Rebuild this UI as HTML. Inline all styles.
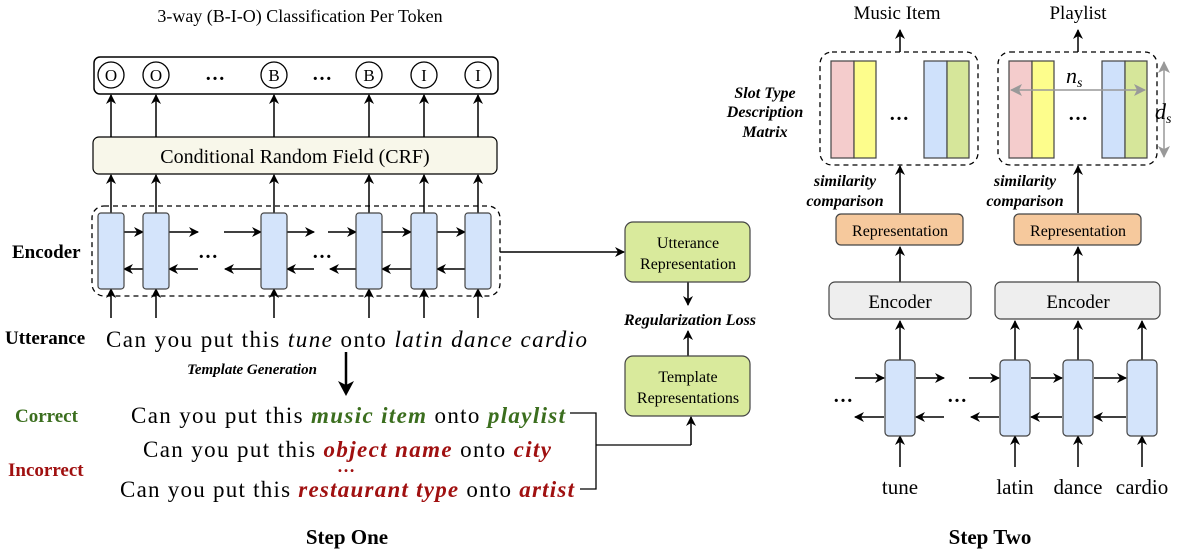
<!DOCTYPE html>
<html><head><meta charset="utf-8"><style>
html,body{margin:0;padding:0;background:#fff;}
svg{display:block;font-family:"Liberation Serif",serif;}
</style></head><body>
<svg width="1181" height="554" viewBox="0 0 1181 554" xmlns="http://www.w3.org/2000/svg">
<defs>
<marker id="a" markerWidth="10" markerHeight="10" refX="9" refY="5" orient="auto" markerUnits="userSpaceOnUse"><path d="M0,0 L10,5 L0,10 L3,5 z" fill="#000"/></marker>
<marker id="g" markerWidth="12" markerHeight="12" refX="11" refY="6" orient="auto-start-reverse" markerUnits="userSpaceOnUse"><path d="M0,0 L12,6 L0,12 L3,6 z" fill="#999"/></marker>
</defs>
<text x="300" y="22" font-size="18" text-anchor="middle">3-way (B-I-O) Classification Per Token</text>
<rect x="94" y="57" width="404" height="37" rx="6" fill="#fff" stroke="#000" stroke-width="1.5"/>
<g fill="#fff" stroke="#000" stroke-width="1.3">
<circle cx="111" cy="75" r="13"/><circle cx="156" cy="75" r="13"/><circle cx="274" cy="75" r="13"/><circle cx="369" cy="75" r="13"/><circle cx="424" cy="75" r="13"/><circle cx="478" cy="75" r="13"/>
</g>
<g font-size="17" text-anchor="middle">
<text x="111" y="81">O</text><text x="156" y="81">O</text><text x="274" y="81">B</text><text x="369" y="81">B</text><text x="424" y="81">I</text><text x="478" y="81">I</text>
</g>
<g font-size="20" font-weight="bold" text-anchor="middle"><text x="215" y="80">…</text><text x="322" y="80">…</text></g>
<rect x="93" y="137" width="404" height="37" rx="6" fill="#f8f7ea" stroke="#000" stroke-width="1.2"/>
<text x="295" y="163" font-size="20" text-anchor="middle">Conditional Random Field (CRF)</text>
<rect x="92" y="206" width="408" height="90" rx="12" fill="none" stroke="#000" stroke-width="1.3" stroke-dasharray="5,4"/>
<g stroke="#000" stroke-width="1.5" marker-end="url(#a)">
<line x1="111" y1="137" x2="111" y2="95"/><line x1="156" y1="137" x2="156" y2="95"/><line x1="274" y1="137" x2="274" y2="95"/><line x1="369" y1="137" x2="369" y2="95"/><line x1="424" y1="137" x2="424" y2="95"/><line x1="478" y1="137" x2="478" y2="95"/>
<line x1="111" y1="213" x2="111" y2="175"/><line x1="156" y1="213" x2="156" y2="175"/><line x1="274" y1="213" x2="274" y2="175"/><line x1="369" y1="213" x2="369" y2="175"/><line x1="424" y1="213" x2="424" y2="175"/><line x1="478" y1="213" x2="478" y2="175"/>
<line x1="111" y1="318" x2="111" y2="289"/><line x1="156" y1="318" x2="156" y2="289"/><line x1="274" y1="318" x2="274" y2="289"/><line x1="369" y1="318" x2="369" y2="289"/><line x1="424" y1="318" x2="424" y2="289"/><line x1="478" y1="318" x2="478" y2="289"/>
<line x1="124" y1="232" x2="143" y2="232"/><line x1="169" y1="232" x2="198" y2="232"/><line x1="224" y1="232" x2="261" y2="232"/><line x1="287" y1="232" x2="314" y2="232"/><line x1="328" y1="232" x2="356" y2="232"/><line x1="382" y1="232" x2="411" y2="232"/><line x1="437" y1="232" x2="465" y2="232"/>
<line x1="143" y1="269" x2="124" y2="269"/><line x1="198" y1="269" x2="169" y2="269"/><line x1="261" y1="269" x2="225" y2="269"/><line x1="314" y1="269" x2="287" y2="269"/><line x1="356" y1="269" x2="330" y2="269"/><line x1="411" y1="269" x2="382" y2="269"/><line x1="465" y1="269" x2="437" y2="269"/>
<line x1="500" y1="252" x2="624" y2="252"/>
<line x1="688" y1="282" x2="688" y2="305"/>
<line x1="688" y1="356" x2="688" y2="331"/>
<line x1="691" y1="445" x2="691" y2="417"/>
<line x1="900" y1="52" x2="900" y2="30"/><line x1="1078" y1="52" x2="1078" y2="30"/>
<line x1="900" y1="213" x2="900" y2="166"/><line x1="1078" y1="213" x2="1078" y2="166"/>
<line x1="900" y1="282" x2="900" y2="247"/><line x1="1078" y1="282" x2="1078" y2="247"/>
<line x1="900" y1="360" x2="900" y2="321"/><line x1="1015" y1="360" x2="1015" y2="321"/><line x1="1078" y1="360" x2="1078" y2="321"/><line x1="1142" y1="360" x2="1142" y2="321"/>
<line x1="900" y1="467" x2="900" y2="436"/><line x1="1015" y1="467" x2="1015" y2="436"/><line x1="1078" y1="467" x2="1078" y2="436"/><line x1="1142" y1="467" x2="1142" y2="436"/>
<line x1="855" y1="378" x2="884" y2="378"/><line x1="916" y1="378" x2="944" y2="378"/><line x1="969" y1="378" x2="999" y2="378"/><line x1="1031" y1="378" x2="1062" y2="378"/><line x1="1094" y1="378" x2="1126" y2="378"/>
<line x1="884" y1="417" x2="855" y2="417"/><line x1="944" y1="417" x2="916" y2="417"/><line x1="999" y1="417" x2="971" y2="417"/><line x1="1062" y1="417" x2="1031" y2="417"/><line x1="1126" y1="417" x2="1094" y2="417"/>
</g>
<g fill="#d4e4fb" stroke="#444" stroke-width="1.2">
<rect x="98" y="213" width="26" height="76" rx="3"/><rect x="143" y="213" width="26" height="76" rx="3"/><rect x="261" y="213" width="26" height="76" rx="3"/><rect x="356" y="213" width="26" height="76" rx="3"/><rect x="411" y="213" width="26" height="76" rx="3"/><rect x="465" y="213" width="26" height="76" rx="3"/>
<rect x="885" y="360" width="30" height="76" rx="4"/><rect x="1000" y="360" width="30" height="76" rx="4"/><rect x="1063" y="360" width="30" height="76" rx="4"/><rect x="1127" y="360" width="30" height="76" rx="4"/>
</g>
<g font-size="20" font-weight="bold" text-anchor="middle"><text x="208" y="258">…</text><text x="322" y="258">…</text><text x="843" y="402">…</text><text x="957" y="402">…</text></g>
<text x="12" y="258" font-size="19" font-weight="bold">Encoder</text>
<text x="5" y="344" font-size="19" font-weight="bold">Utterance</text>
<text x="106" y="347" font-size="23" textLength="481" lengthAdjust="spacing">Can you put this <tspan font-style="italic">tune</tspan> onto <tspan font-style="italic">latin</tspan> <tspan font-style="italic">dance</tspan> <tspan font-style="italic">cardio</tspan></text>
<rect x="625" y="222" width="125" height="60" rx="8" fill="#d9ea9c" stroke="#444" stroke-width="1.2"/>
<text x="688" y="248" font-size="16" text-anchor="middle">Utterance</text>
<text x="688" y="269" font-size="16" text-anchor="middle">Representation</text>
<text x="690" y="325" font-size="16" font-weight="bold" font-style="italic" text-anchor="middle">Regularization Loss</text>
<rect x="625" y="356" width="125" height="60" rx="8" fill="#d9ea9c" stroke="#444" stroke-width="1.2"/>
<text x="688" y="382" font-size="16" text-anchor="middle">Template</text>
<text x="688" y="403" font-size="16" text-anchor="middle">Representations</text>
<text x="252" y="374" font-size="15" font-weight="bold" font-style="italic" text-anchor="middle">Template Generation</text>
<line x1="346" y1="352" x2="346" y2="385" stroke="#000" stroke-width="2.5"/>
<path d="M338,381 L346,396 L354,381 L346,385 z" fill="#000"/>
<text x="15" y="422" font-size="19" font-weight="bold" fill="#3b6e1e">Correct</text>
<text x="8" y="476" font-size="19" font-weight="bold" fill="#a01010">Incorrect</text>
<text x="131" y="423" font-size="23" textLength="434" lengthAdjust="spacing">Can you put this <tspan font-style="italic" font-weight="bold" fill="#3b6e1e">music item</tspan> onto <tspan font-style="italic" font-weight="bold" fill="#3b6e1e">playlist</tspan></text>
<text x="143" y="457" font-size="23" textLength="408" lengthAdjust="spacing">Can you put this <tspan font-style="italic" font-weight="bold" fill="#a01010">object name</tspan> onto <tspan font-style="italic" font-weight="bold" fill="#a01010">city</tspan></text>
<text x="346" y="472" font-size="18" font-weight="bold" fill="#a01010" text-anchor="middle">…</text>
<text x="120" y="497" font-size="23" textLength="454" lengthAdjust="spacing">Can you put this <tspan font-style="italic" font-weight="bold" fill="#a01010">restaurant type</tspan> onto <tspan font-style="italic" font-weight="bold" fill="#a01010">artist</tspan></text>
<path d="M570,413 H596 V489 H580 M596,445 H691" fill="none" stroke="#000" stroke-width="1.3"/>
<text x="347" y="544" font-size="21" font-weight="bold" text-anchor="middle">Step One</text>
<text x="897" y="19" font-size="19" text-anchor="middle">Music Item</text>
<text x="1078" y="19" font-size="19" text-anchor="middle">Playlist</text>
<rect x="820" y="52" width="158" height="113" rx="12" fill="none" stroke="#000" stroke-width="1.3" stroke-dasharray="5,4"/>
<rect x="998" y="52" width="159" height="113" rx="12" fill="none" stroke="#000" stroke-width="1.3" stroke-dasharray="5,4"/>
<g stroke="#444" stroke-width="1.2">
<rect x="831" y="61" width="23" height="97" fill="#f4cccc"/><rect x="854" y="61" width="22" height="97" fill="#fdfd8c"/><rect x="924" y="61" width="23" height="97" fill="#cfe1fb"/><rect x="947" y="61" width="22" height="97" fill="#d6e69a"/>
<rect x="1009" y="61" width="23" height="97" fill="#f4cccc"/><rect x="1032" y="61" width="22" height="97" fill="#fdfd8c"/><rect x="1102" y="61" width="23" height="97" fill="#cfe1fb"/><rect x="1125" y="61" width="22" height="97" fill="#d6e69a"/>
</g>
<g font-size="20" font-weight="bold" text-anchor="middle"><text x="899" y="120">…</text><text x="1078" y="120">…</text></g>
<line x1="1011" y1="90" x2="1145" y2="90" stroke="#999" stroke-width="1.5" marker-start="url(#g)" marker-end="url(#g)"/>
<line x1="1164" y1="62" x2="1164" y2="157" stroke="#999" stroke-width="1.5" marker-start="url(#g)" marker-end="url(#g)"/>
<text x="1066" y="83" font-size="22" font-style="italic">n<tspan font-size="14" dy="4">s</tspan></text>
<text x="1155" y="119" font-size="22" font-style="italic">d<tspan font-size="14" dy="4">s</tspan></text>
<g font-size="16" font-weight="bold" font-style="italic" text-anchor="middle">
<text x="765" y="98">Slot Type</text><text x="765" y="117">Description</text><text x="765" y="137">Matrix</text>
<text x="845" y="186">similarity</text><text x="845" y="206">comparison</text>
<text x="1025" y="186">similarity</text><text x="1025" y="206">comparison</text>
</g>
<rect x="836" y="214" width="127" height="31" rx="5" fill="#f6c99d" stroke="#444" stroke-width="1.2"/>
<rect x="1014" y="214" width="127" height="31" rx="5" fill="#f6c99d" stroke="#444" stroke-width="1.2"/>
<text x="900" y="236" font-size="16" text-anchor="middle">Representation</text>
<text x="1078" y="236" font-size="16" text-anchor="middle">Representation</text>
<rect x="829" y="282" width="142" height="37" rx="6" fill="#eeeeee" stroke="#444" stroke-width="1.2"/>
<rect x="995" y="282" width="165" height="37" rx="6" fill="#eeeeee" stroke="#444" stroke-width="1.2"/>
<text x="900" y="308" font-size="19" text-anchor="middle">Encoder</text>
<text x="1078" y="308" font-size="19" text-anchor="middle">Encoder</text>
<g font-size="21" text-anchor="middle">
<text x="900" y="494">tune</text><text x="1015" y="494">latin</text><text x="1078" y="494">dance</text><text x="1142" y="494">cardio</text>
</g>
<text x="990" y="544" font-size="21" font-weight="bold" text-anchor="middle">Step Two</text>
</svg>
</body></html>
